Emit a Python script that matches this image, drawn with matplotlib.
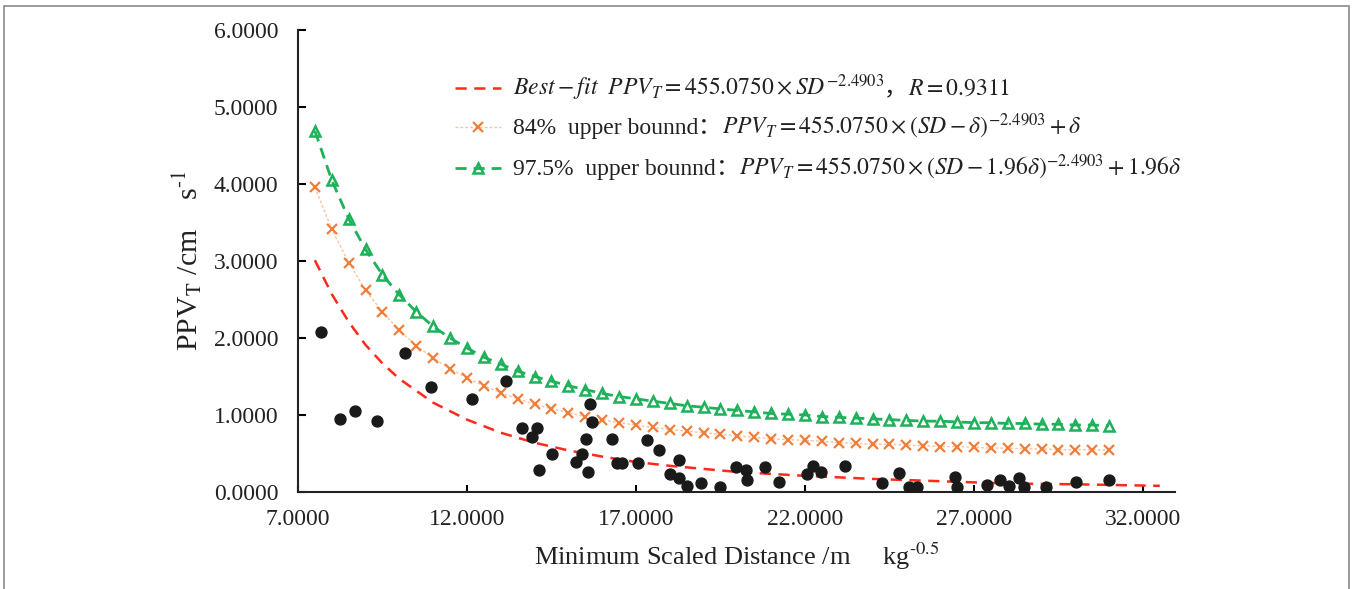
import matplotlib
matplotlib.use("Agg")
import matplotlib.pyplot as plt
from matplotlib.lines import Line2D
from matplotlib.patches import Rectangle
from matplotlib.transforms import IdentityTransform

plt.rcParams["font.family"] = ["Liberation Serif", "Noto Sans CJK SC"]
plt.rcParams["mathtext.fontset"] = "stix"

# measured blasting data
sd_points = [7.68, 8.24, 8.69, 9.34, 10.17, 10.93, 12.15, 13.15, 13.63, 13.92,
             14.07, 14.12, 14.51, 15.23, 15.40, 15.52, 15.58, 15.64, 15.70, 16.29,
             16.45, 16.60, 17.07, 17.33, 17.68, 18.02, 18.27, 18.27, 18.51, 18.91,
             19.50, 19.95, 20.27, 20.30, 20.82, 21.23, 22.06, 22.24, 22.47, 23.18,
             24.28, 24.78, 25.08, 25.31, 26.44, 26.50, 27.38, 27.77, 28.04, 28.33,
             28.48, 29.13, 30.02, 31.00]
ppv_points = [2.08, 0.95, 1.05, 0.92, 1.80, 1.36, 1.21, 1.44, 0.83, 0.72,
              0.83, 0.29, 0.49, 0.39, 0.49, 0.69, 0.26, 1.14, 0.91, 0.69,
              0.38, 0.38, 0.38, 0.68, 0.55, 0.24, 0.41, 0.18, 0.08, 0.12,
              0.07, 0.32, 0.29, 0.16, 0.32, 0.13, 0.23, 0.34, 0.26, 0.34,
              0.12, 0.25, 0.07, 0.07, 0.19, 0.07, 0.09, 0.16, 0.08, 0.18,
              0.07, 0.07, 0.13, 0.15]

# best-fit curve
fit_sd = [7.5, 8.0, 8.5, 9.0, 9.5, 10.0, 11.0, 12.0, 13.0, 14.0, 15.0,
          16.0, 17.0, 18.0, 20.0, 22.0, 24.0, 26.0, 28.0, 30.0, 32.5]
fit_ppv = [3.01, 2.57, 2.21, 1.91, 1.67, 1.47, 1.16, 0.94, 0.77, 0.64, 0.54,
           0.46, 0.39, 0.34, 0.26, 0.21, 0.17, 0.14, 0.11, 0.10, 0.08]

# upper bounds
bound_sd = [7.5, 8.0, 8.5, 9.0, 9.5, 10.0, 10.5, 11.0, 11.5, 12.0,
            12.5, 13.0, 13.5, 14.0, 14.5, 15.0, 15.5, 16.0, 16.5, 17.0,
            17.5, 18.0, 18.5, 19.0, 19.5, 20.0, 20.5, 21.0, 21.5, 22.0,
            22.5, 23.0, 23.5, 24.0, 24.5, 25.0, 25.5, 26.0, 26.5, 27.0,
            27.5, 28.0, 28.5, 29.0, 29.5, 30.0, 30.5, 31.0]
upper_84 = [3.96, 3.41, 2.98, 2.62, 2.34, 2.10, 1.90, 1.74, 1.60, 1.48,
            1.38, 1.29, 1.21, 1.14, 1.08, 1.03, 0.98, 0.94, 0.90, 0.87,
            0.84, 0.81, 0.79, 0.77, 0.75, 0.73, 0.71, 0.69, 0.68, 0.67,
            0.66, 0.64, 0.63, 0.62, 0.62, 0.61, 0.60, 0.59, 0.59, 0.58,
            0.57, 0.57, 0.56, 0.56, 0.55, 0.55, 0.55, 0.54]
upper_975 = [4.69, 4.05, 3.55, 3.15, 2.82, 2.56, 2.34, 2.15, 2.00, 1.87,
             1.75, 1.66, 1.57, 1.50, 1.44, 1.38, 1.33, 1.28, 1.24, 1.21,
             1.18, 1.15, 1.12, 1.10, 1.08, 1.06, 1.04, 1.02, 1.01, 1.00,
             0.98, 0.97, 0.96, 0.95, 0.94, 0.93, 0.92, 0.92, 0.91, 0.90,
             0.90, 0.89, 0.89, 0.88, 0.88, 0.87, 0.87, 0.86]

x_ticks = [7, 12, 17, 22, 27, 32]
y_ticks = [0, 1, 2, 3, 4, 5, 6]

# legend rows: text before the full-width sign, the sign, text after it
legend_heads = [r"$Best-fit\ \ PPV_T=455.0750\times SD^{-2.4903}$",
                "84%  upper bounnd",
                "97.5%  upper bounnd"]
legend_signs = ["，", "：", "："]
legend_tails = [r"$R=0.9311$",
                r"$PPV_T=455.0750\times(SD-\delta)^{-2.4903}+\delta$",
                r"$PPV_T=455.0750\times(SD-1.96\delta)^{-2.4903}+1.96\delta$"]

red = "#FF2A1A"
peach = "#F8C3A0"
orange = "#F07F3C"
green = "#1DB15A"
ink = "#222222"
legend_size = 17

fig = plt.figure(figsize=(13.52, 5.89), dpi=100)
ax = fig.add_axes([0.2204, 0.1647, 0.6487, 0.7843])

fit_style = dict(color=red, linestyle=(0, (4.5, 3)), linewidth=1.8)
low_style = dict(color=peach, linestyle=(0, (2, 1.5)), linewidth=1.0)
high_style = dict(color=green, linestyle=(0, (4, 2.5)), linewidth=2.0)
low_marker = dict(marker="x", markersize=7, markeredgewidth=1.6, markeredgecolor=orange)
high_marker = dict(marker="^", markersize=7, markerfacecolor="none",
                   markeredgewidth=1.8, markeredgecolor=green)

ax.plot(fit_sd, fit_ppv, zorder=2, **fit_style)
ax.plot(bound_sd, upper_84, zorder=2, **low_style, **low_marker)
ax.plot(bound_sd, upper_975, zorder=2, **high_style, **high_marker)
ax.scatter(sd_points, ppv_points, s=62, color="#1A1A1A", zorder=3)

ax.set_xlim(7, 32.95)
ax.set_ylim(0, 6)
ax.set_xticks(x_ticks)
ax.set_yticks(y_ticks)
ax.set_xticklabels([f"{v:.4f}" for v in x_ticks])
ax.set_yticklabels([f"{v:.4f}" for v in y_ticks])

for side in ["top", "right"]:
    ax.spines[side].set_visible(False)
for side in ["left", "bottom"]:
    ax.spines[side].set_linewidth(1.5)
    ax.spines[side].set_color(ink)

ax.tick_params(axis="y", direction="in", length=6, width=1.5, labelsize=17,
               pad=14, labelcolor=ink)
ax.tick_params(axis="x", direction="in", length=5, width=1.5, labelsize=17,
               pad=12, labelcolor=ink)

ax.set_xlabel(r"Minimum Scaled Distance /m     kg$^{\text{-0.5}}$", fontsize=19,
              labelpad=8, color=ink)
ax.set_ylabel(r"PPV$_{\rm T}$ /cm    s$^{\text{-1}}$", fontsize=21.5, labelpad=7,
              color=ink)

# hand-built legend (pixel coordinates, origin bottom-left) so the CJK signs
# can sit between the mathtext pieces without overlapping them
H = 589
row_centers = [H - 88, H - 127, H - 168]
pixel = IdentityTransform()

handle_styles = [(fit_style, None), (low_style, low_marker), (high_style, high_marker)]
for yc, (line_style, marker_style) in zip(row_centers, handle_styles):
    fig.add_artist(Line2D([455, 501], [yc, yc], transform=pixel, **line_style))
    if marker_style:
        fig.add_artist(Line2D([478], [yc], transform=pixel, linestyle="none",
                              **marker_style))

fig.canvas.draw()
renderer = fig.canvas.get_renderer()
em = legend_size * fig.dpi / 72
for yc, head, sign, tail in zip(row_centers, legend_heads, legend_signs, legend_tails):
    base = yc - 7
    head_text = fig.text(513, base, head, transform=pixel, fontsize=legend_size,
                         va="baseline", ha="left", color=ink)
    x = 513 + head_text.get_window_extent(renderer).width
    fig.text(x, base, sign, transform=pixel, fontsize=legend_size,
             family="Noto Sans CJK SC", va="baseline", ha="left", color=ink)
    fig.text(x + em, base, tail, transform=pixel, fontsize=legend_size,
             va="baseline", ha="left", color=ink)

# thin grey frame around the picture
fig.patches.append(Rectangle((4 / 1352, -0.05), 1345 / 1352, 1.05 - 6 / 589,
                             transform=fig.transFigure, fill=False,
                             edgecolor="#8A8A8A", linewidth=1.2))

fig.savefig("out.png", dpi=100)
